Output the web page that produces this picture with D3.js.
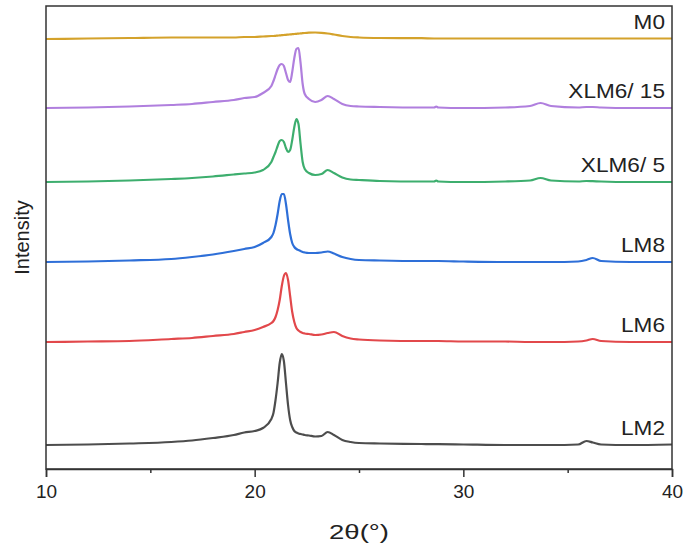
<!DOCTYPE html>
<html>
<head>
<meta charset="utf-8">
<script src="https://cdn.jsdelivr.net/npm/d3@7"></script>
<style>
  body { margin: 0; background: #fff; }
  svg { font-family: "Liberation Sans", Arial, sans-serif; }
</style>
</head>
<body>
<div id="chart"></div>
<script>
// 2theta grid shared by all patterns
const twoTheta = [10, 12, 14, 16, 17, 18, 19, 19.5, 20, 20.4,
  20.8, 20.9, 21.0, 21.1, 21.2, 21.3, 21.4, 21.5, 21.6, 21.7,
  21.8, 21.9, 22.0, 22.1, 22.2, 22.3, 22.4, 22.6, 22.9, 23.2,
  23.5, 23.8, 24.2, 24.6, 25, 26, 28, 28.6, 28.7, 28.8,
  30, 32, 33.2, 33.7, 34.2, 35.5, 35.9, 36.2, 36.6, 38, 40];

const seriesNames = ["LM2", "LM6", "LM8", "XLM6/ 5", "XLM6/ 15", "M0"];
const seriesColors = ["#4d4d4d", "#e2484b", "#2e6fd8", "#3dae6e", "#b07fde", "#d4a22b"];
// vertical offsets used to stack the patterns (a.u.)
const offsets = [24, 127, 207, 287, 361, 430];

const lm2 = [0, 0.5, 1.5, 3, 4.5, 7, 10, 12.5, 14, 17,
  26, 32, 45, 62, 82, 91, 84, 62, 40, 25,
  18, 14, 12.5, 11.5, 11, 10.5, 10, 9.5, 8.5, 9,
  13, 10, 5, 3, 2, 1.5, 1, 0.8, 0.8, 0.8,
  0.5, 0, 0, 0, 0, 0.5, 4, 2.5, 0.5, 0, 0.5];
const lm6 = [0, 0.5, 1, 3, 4, 6, 8, 10, 12, 15,
  19, 21, 25, 32, 42, 56, 66, 69, 62, 46,
  30, 20, 14, 11.5, 10, 9, 8.5, 8, 7, 7.5,
  9, 10, 6, 3.5, 2.5, 1.5, 1, 1, 1, 1,
  0.5, 0.5, 0, 0, 0, 0.5, 1.5, 3, 1, 0, 0];
const lm8 = [0, 0.5, 1.5, 3, 5, 7.5, 11, 13, 15, 19,
  25, 29, 37, 48, 61, 68, 68, 58, 42, 28,
  19, 15, 13, 12, 11, 10, 9.5, 9, 9, 9.5,
  10.5, 8.5, 5, 3, 2, 1.5, 1, 1, 1, 1,
  0.5, 0, 0, 0, 0, 0.5, 2, 4, 1, 0, 0];
const xlm6_5 = [0, 0.5, 1.5, 3, 4, 5.5, 7.5, 8.5, 9.5, 12,
  20, 25, 30, 36, 41, 42, 40, 34, 30, 32,
  42, 55, 63, 58, 38, 20, 13, 9, 7, 8,
  12, 9, 4.5, 2.5, 2, 1, 0.5, 0.5, 1.5, 0.5,
  0, 0.5, 1.5, 4, 1.5, 0.5, 1, 0.8, 0.5, 0, 0];
const xlm6_15 = [0, 0.5, 1.5, 3, 4, 6, 8, 10, 11, 15,
  22, 27, 33, 39, 43, 44, 42, 35, 28, 26,
  36, 50, 59, 60, 45, 24, 14, 9, 6, 8,
  12, 9, 4, 2, 1.5, 1, 0.5, 0.5, 1.5, 0.5,
  0, 0.5, 2, 5, 2, 0.5, 1, 1, 0.5, 0, 0];
const m0 = [0, 0.5, 1, 1.5, 1.5, 1.5, 1.5, 2, 2, 2.5,
  3, 3, 3.2, 3.4, 3.6, 3.8, 4, 4.2, 4.4, 4.6,
  4.8, 5, 5.2, 5.4, 5.6, 5.8, 6, 6.3, 6.5, 6.2,
  5.5, 4.5, 3, 2, 1.5, 1, 0.8, 0.5, 0.5, 0.5,
  0.5, 0.5, 0.5, 0.5, 0.5, 0.5, 0.5, 0.5, 0.5, 0.5, 0.5];

const seriesValues = [lm2, lm6, lm8, xlm6_5, xlm6_15, m0];

const xTicks = [10, 20, 30, 40];
const xMinorTicks = [15, 25, 35];

const width = 684, height = 547;
const margin = { top: 6, right: 12, bottom: 78, left: 46 };

const svg = d3.select("#chart").append("svg")
  .attr("width", width)
  .attr("height", height);

const x = d3.scaleLinear()
  .domain([10, 40])
  .range([margin.left, width - margin.right]);

const y = d3.scaleLinear()
  .domain([0, 463])
  .range([height - margin.bottom, margin.top]);

const line = d3.line()
  .x(d => x(d[0]))
  .y(d => y(d[1]))
  .curve(d3.curveMonotoneX);

// patterns
seriesValues.forEach((vals, i) => {
  const pts = twoTheta.map((t, j) => [t, vals[j] + offsets[i]]);
  svg.append("path")
    .datum(pts)
    .attr("fill", "none")
    .attr("stroke", seriesColors[i])
    .attr("stroke-width", 2.2)
    .attr("stroke-linejoin", "round")
    .attr("d", line);

  // labels in the original are a bit wider than plain Arial
  svg.append("text")
    .attr("transform", `translate(665,${y(offsets[i]) - 10}) scale(1.13,1)`)
    .attr("text-anchor", "end")
    .style("font-size", "20px")
    .style("fill", "#222")
    .text(seriesNames[i]);
});

// frame
svg.append("rect")
  .attr("x", margin.left)
  .attr("y", margin.top)
  .attr("width", width - margin.left - margin.right)
  .attr("height", height - margin.top - margin.bottom)
  .attr("fill", "none")
  .attr("stroke", "#333")
  .attr("stroke-width", 1.5);

// bottom axis
const xAxis = svg.append("g")
  .attr("transform", `translate(0,${height - margin.bottom})`)
  .call(d3.axisBottom(x).tickValues(xTicks).tickSize(8).tickPadding(8).tickFormat(d3.format("d")));
xAxis.select(".domain").attr("stroke", "#333").attr("stroke-width", 1.5);
xAxis.selectAll(".tick line").attr("stroke", "#333").attr("stroke-width", 1.5);
xAxis.selectAll(".tick text")
  .style("font-size", "19px")
  .style("font-family", "'Liberation Sans', Arial, sans-serif")
  .attr("fill", "#222");

svg.append("g")
  .attr("transform", `translate(0,${height - margin.bottom})`)
  .call(d3.axisBottom(x).tickValues(xMinorTicks).tickSize(4).tickFormat(""))
  .call(g => g.select(".domain").remove())
  .selectAll(".tick line").attr("stroke", "#333").attr("stroke-width", 1.5);

// axis titles
svg.append("text")
  .attr("x", (margin.left + width - margin.right) / 2)
  .attr("y", 539)
  .attr("text-anchor", "middle")
  .attr("textLength", 60)
  .attr("lengthAdjust", "spacingAndGlyphs")
  .style("font-size", "21px")
  .style("fill", "#222")
  .text("2θ(°)");

svg.append("text")
  .attr("transform", `translate(29,${(margin.top + height - margin.bottom) / 2}) rotate(-90)`)
  .attr("text-anchor", "middle")
  .style("font-size", "20px")
  .style("fill", "#222")
  .text("Intensity");
</script>
</body>
</html>
